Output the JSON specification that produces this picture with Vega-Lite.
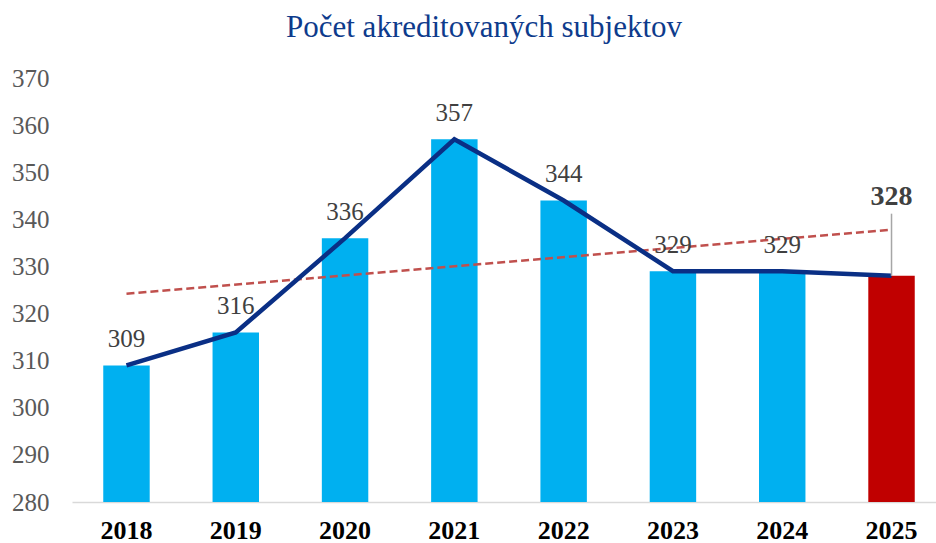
{
  "$schema": "https://vega.github.io/schema/vega-lite/v6.json",
  "width": 874,
  "height": 424,
  "autosize": {"type": "none"},
  "padding": {"left": 72, "top": 78, "right": 0, "bottom": 41},
  "background": "white",
  "config": {"view": {"stroke": null}},
  "title": {
    "text": "Počet akreditovaných subjektov",
    "font": "Liberation Serif",
    "fontSize": 31,
    "fontWeight": "normal",
    "color": "#0E3B8C",
    "anchor": "middle",
    "dx": -25,
    "offset": 22
  },
  "datasets": {
    "main": [
      {"year": "2018", "value": 309, "last": "no"},
      {"year": "2019", "value": 316, "last": "no"},
      {"year": "2020", "value": 336, "last": "no"},
      {"year": "2021", "value": 357, "last": "no"},
      {"year": "2022", "value": 344, "last": "no"},
      {"year": "2023", "value": 329, "last": "no"},
      {"year": "2024", "value": 329, "last": "no"},
      {"year": "2025", "value": 328, "last": "yes"}
    ],
    "trend": [
      {"year": "2018", "value": 324.2},
      {"year": "2025", "value": 337.8}
    ]
  },
  "data": {"name": "main"},
  "encoding": {
    "x": {
      "field": "year",
      "type": "ordinal",
      "scale": {"paddingInner": 0.575, "paddingOuter": 0.286},
      "axis": {
        "title": null,
        "labelAngle": 0,
        "labelFont": "Liberation Serif",
        "labelFontSize": 26,
        "labelFontWeight": "bold",
        "labelColor": "#000000",
        "labelPadding": 15,
        "ticks": false,
        "domainColor": "#D9D9D9",
        "domainWidth": 1.5
      }
    }
  },
  "layer": [
    {
      "mark": {"type": "bar"},
      "encoding": {
        "y": {
          "field": "value",
          "type": "quantitative",
          "scale": {"domain": [280, 370], "zero": false, "nice": false},
          "axis": {
            "title": null,
            "values": [280, 290, 300, 310, 320, 330, 340, 350, 360, 370],
            "labelFont": "Liberation Serif",
            "labelFontSize": 25,
            "labelColor": "#595959",
            "labelPadding": 23,
            "ticks": false,
            "domain": false,
            "grid": false
          }
        },
        "y2": {"datum": 280},
        "color": {
          "field": "last",
          "type": "nominal",
          "scale": {"domain": ["no", "yes"], "range": ["#00B0F0", "#C00000"]},
          "legend": null
        }
      }
    },
    {
      "data": {"name": "trend"},
      "mark": {"type": "line", "color": "#C0504D", "strokeWidth": 2.5, "strokeDash": [8, 4]},
      "encoding": {
        "y": {"field": "value", "type": "quantitative"}
      }
    },
    {
      "mark": {"type": "line", "color": "#0A2F85", "strokeWidth": 4.5},
      "encoding": {
        "y": {"field": "value", "type": "quantitative"}
      }
    },
    {
      "transform": [{"filter": "datum.last == 'no'"}],
      "mark": {"type": "text", "font": "Liberation Serif", "fontSize": 25, "color": "#404040", "baseline": "middle", "dy": -26},
      "encoding": {
        "y": {"field": "value", "type": "quantitative"},
        "text": {"field": "value", "type": "quantitative"}
      }
    },
    {
      "transform": [{"filter": "datum.last == 'yes'"}],
      "mark": {"type": "rule", "color": "#A6A6A6", "strokeWidth": 1.5},
      "encoding": {
        "y": {"field": "value", "type": "quantitative"},
        "y2": {"datum": 341.2}
      }
    },
    {
      "transform": [{"filter": "datum.last == 'yes'"}],
      "mark": {"type": "text", "font": "Liberation Serif", "fontSize": 28, "fontWeight": "bold", "color": "#404040", "baseline": "middle", "dy": -79},
      "encoding": {
        "y": {"field": "value", "type": "quantitative"},
        "text": {"field": "value", "type": "quantitative"}
      }
    }
  ]
}
